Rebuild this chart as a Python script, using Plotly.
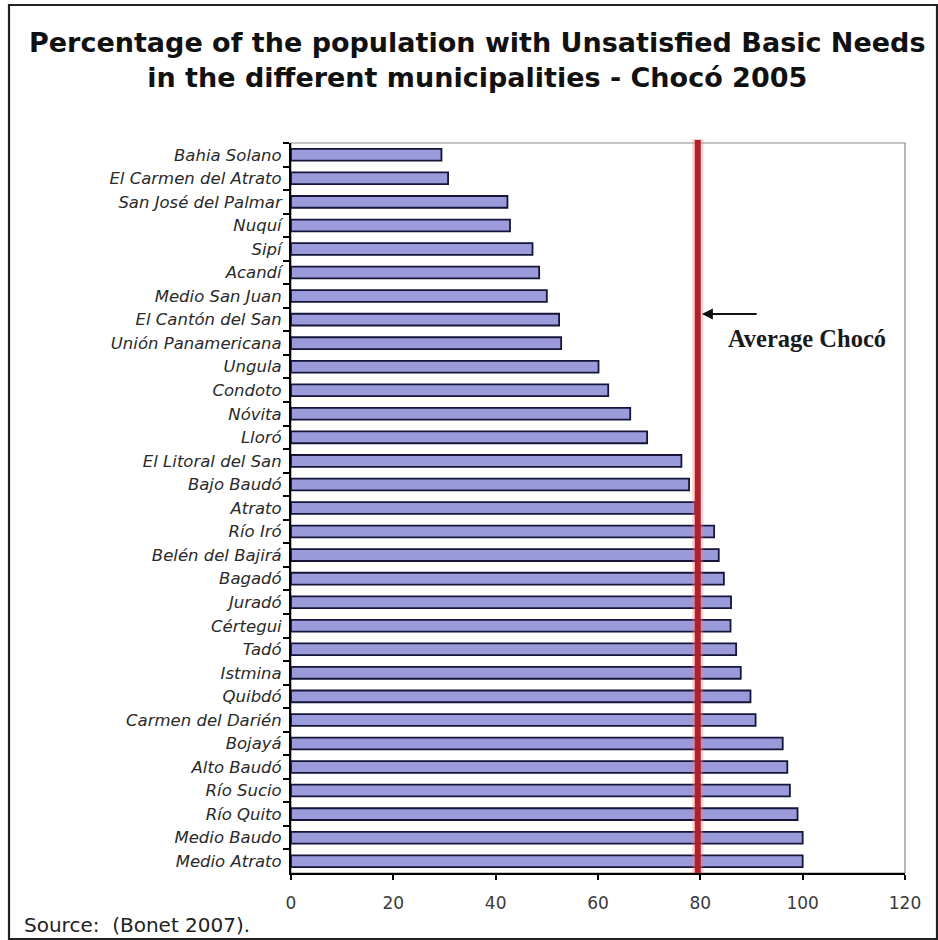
import plotly.graph_objects as go

municipalities = [
    "Bahia Solano", "El Carmen del Atrato", "San José del Palmar", "Nuquí", "Sipí",
    "Acandí", "Medio San Juan", "El Cantón del San", "Unión Panamericana", "Ungula",
    "Condoto", "Nóvita", "Lloró", "El Litoral del San", "Bajo Baudó", "Atrato",
    "Río Iró", "Belén del Bajirá", "Bagadó", "Juradó", "Cértegui", "Tadó", "Istmina",
    "Quibdó", "Carmen del Darién", "Bojayá", "Alto Baudó", "Río Sucio", "Río Quito",
    "Medio Baudo", "Medio Atrato",
]
nbi_values = [
    29.4, 30.7, 42.3, 42.8, 47.2,
    48.5, 50.0, 52.4, 52.8, 60.1,
    62.0, 66.3, 69.6, 76.3, 77.8, 79.0,
    82.7, 83.6, 84.6, 86.0, 85.9, 87.0, 87.9,
    89.8, 90.8, 96.1, 97.0, 97.5, 99.0,
    100.0, 100.0,
]
average_choco = 79.5
x_ticks = [0, 20, 40, 60, 80, 100, 120]

title_text = ("Percentage of the population with Unsatisfied Basic Needs<br>"
              "in the different municipalities - Chocó 2005")
source_text = "Source:  (Bonet 2007)."
avg_label = "Average Chocó"

W, H = 938, 940
ML, MR, MT, MB = 291, 33, 143, 67
pw, ph = W - ML - MR, H - MT - MB


def px_x(p):
    return (p - ML) / pw


def px_y(p):
    return (H - MB - p) / ph


fig = go.Figure()
fig.add_trace(go.Bar(
    x=nbi_values,
    y=municipalities,
    orientation="h",
    width=0.5,
    marker=dict(color="#9b9bdc", line=dict(color="#15153a", width=1.8)),
    hoverinfo="x+y",
))

fig.update_layout(
    width=W, height=H,
    margin=dict(l=ML, r=MR, t=MT, b=MB),
    paper_bgcolor="white",
    plot_bgcolor="white",
    showlegend=False,
    xaxis=dict(
        range=[0, 120],
        tickvals=x_ticks,
        ticks="outside", ticklen=5, tickwidth=1.5, tickcolor="#000",
        showline=True, linecolor="#000", linewidth=2,
        showgrid=False, zeroline=False,
        tickfont=dict(family="DejaVu Sans", size=17, color="#3a3a3a"),
        ticklabelstandoff=9,
        fixedrange=True,
    ),
    yaxis=dict(
        categoryorder="array", categoryarray=municipalities,
        autorange="reversed",
        tickson="boundaries",
        ticks="outside", ticklen=6, tickwidth=1.5, tickcolor="#000",
        showline=True, linecolor="#000", linewidth=2,
        showgrid=False, zeroline=False,
        tickfont=dict(family="DejaVu Sans", size=16.5, color="#2a2a2a", style="italic"),
        ticklabelstandoff=4,
        fixedrange=True,
    ),
)

# plot-area frame (top/right gray)
fig.add_shape(type="rect", xref="paper", yref="paper", x0=0, x1=1, y0=0, y1=1,
              line=dict(color="#8a8a8a", width=1.2), layer="below")

# outer border of the whole picture
fig.add_shape(type="rect", xref="paper", yref="paper",
              x0=px_x(9), x1=px_x(937), y0=px_y(939), y1=px_y(5),
              line=dict(color="#222", width=2.2), layer="below")

# average line (glow + core)
fig.add_shape(type="line", xref="x", yref="paper", x0=average_choco, x1=average_choco,
              y0=0, y1=px_y(139), line=dict(color="rgba(255,120,120,0.35)", width=11))
fig.add_shape(type="line", xref="x", yref="paper", x0=average_choco, x1=average_choco,
              y0=0, y1=px_y(140), line=dict(color="#b0202c", width=6))

# arrow
fig.add_annotation(x=80.3, y=px_y(314), xref="x", yref="paper",
                   ax=91.3, ay=0, axref="x", text="", showarrow=True,
                   arrowhead=2, arrowsize=1.1, arrowwidth=2, arrowcolor="#111")
fig.add_annotation(x=px_x(807), y=px_y(338), xref="paper", yref="paper",
                   text=avg_label, showarrow=False, xanchor="center", yanchor="middle",
                   font=dict(family="Liberation Serif", size=24.5, color="#1a1a1a", weight="bold"))

# title
fig.add_annotation(x=px_x(477), y=px_y(60), xref="paper", yref="paper",
                   text=title_text, showarrow=False, xanchor="center", yanchor="middle",
                   font=dict(family="DejaVu Sans", size=27, color="#111", weight="bold"))

# source
fig.add_annotation(x=px_x(22), y=px_y(925), xref="paper", yref="paper",
                   text=source_text, showarrow=False, xanchor="left", yanchor="middle",
                   font=dict(family="DejaVu Sans", size=20, color="#222"))

fig.write_html("out.html")
